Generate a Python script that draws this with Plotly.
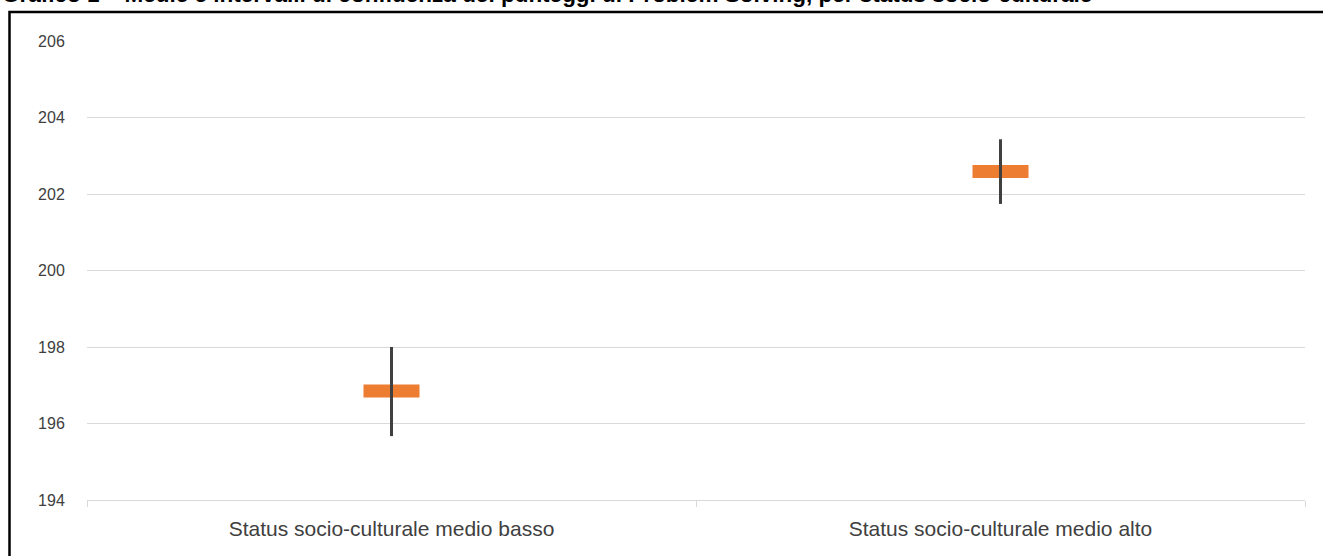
import plotly.graph_objects as go

categories = ["Status socio-culturale medio basso", "Status socio-culturale medio alto"]
means = [196.85, 202.59]
ci_low = [195.67, 201.74]
ci_high = [198.00, 203.43]
y_ticks = [194, 196, 198, 200, 202, 204, 206]
title_text = "Grafico 1 – Medie e intervalli di confidenza dei punteggi di Problem Solving, per status socio-culturale"

W, H = 1323, 556
L, R, T, B = 87, 18, 41, 56
pw, ph = W - L - R, H - T - B

def px_x(p):
    return (p - L) / pw

def px_y(p):
    return (H - B - p) / ph

fig = go.Figure()
fig.add_trace(go.Scatter(
    x=categories, y=means, mode="markers",
    marker=dict(symbol="line-ew", size=40, color="#ED7D31",
                line=dict(width=13, color="#ED7D31")),
    showlegend=False, hoverinfo="skip"))
fig.add_trace(go.Scatter(
    x=categories, y=means, mode="markers",
    marker=dict(size=1, opacity=0),
    error_y=dict(type="data", symmetric=False,
                 array=[h - m for h, m in zip(ci_high, means)],
                 arrayminus=[m - l for m, l in zip(means, ci_low)],
                 thickness=3, width=0, color="#404040"),
    showlegend=False))

fig.update_layout(
    width=W, height=H,
    margin=dict(l=L, r=R, t=T, b=B, autoexpand=False),
    paper_bgcolor="white", plot_bgcolor="white",
    font=dict(family="Liberation Sans, Arial, sans-serif", size=16, color="#404040"),
    xaxis=dict(range=[-0.5, 1.5], showgrid=False, showline=True, linecolor="#d9d9d9", linewidth=1,
               ticks="outside", tickson="boundaries", ticklen=6, tickcolor="#d9d9d9",
               ticklabelstandoff=10,
               tickfont=dict(size=21, color="#404040"), zeroline=False, automargin=False),
    yaxis=dict(range=[194, 206], tickvals=y_ticks, showgrid=True, gridcolor="#d9d9d9",
               gridwidth=1, zeroline=False, showline=False, ticks="outside",
               ticklen=18, tickcolor="rgba(0,0,0,0)", automargin=False,
               tickfont=dict(size=16, color="#404040")),
    shapes=[dict(type="rect", xref="paper", yref="paper",
                 x0=px_x(9.5), x1=px_x(1340), y0=px_y(580), y1=px_y(12),
                 line=dict(color="black", width=2.5), fillcolor="rgba(0,0,0,0)")],
    annotations=[dict(text="<b>" + title_text + "</b>", xref="paper", yref="paper",
                      x=px_x(0), y=px_y(8.5), xanchor="left", yanchor="bottom",
                      showarrow=False, font=dict(size=22.5, color="black"))],
)

fig.write_html("out.html", config={"displayModeBar": False},
               post_script="document.body.style.margin='0';document.body.style.overflow='hidden';")
